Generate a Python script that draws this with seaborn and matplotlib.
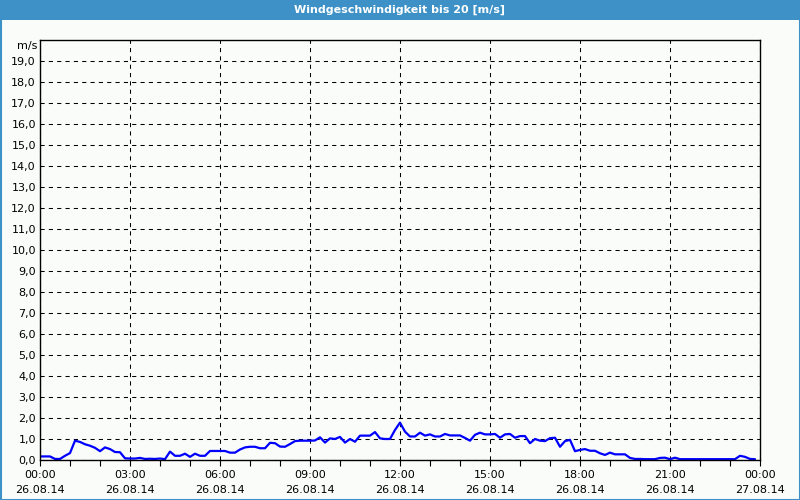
import numpy as np
import pandas as pd
import matplotlib
matplotlib.use("Agg")
import matplotlib.pyplot as plt
import matplotlib.dates as mdates
from matplotlib.patches import Rectangle
import seaborn as sns

title = "Windgeschwindigkeit bis 20 [m/s]"
unit_label = "m/s"
start_time = "2014-08-26 00:00"
end_time = "2014-08-27 00:00"
sample_freq = "10min"

# wind speed, m/s, one value every 10 minutes (00:00 .. 23:50)
speed_00_04 = [0.17, 0.17, 0.17, 0.05, 0.05, 0.20, 0.33, 0.92, 0.86, 0.75, 0.68, 0.58,
               0.42, 0.60, 0.52, 0.38, 0.37, 0.08, 0.07, 0.07, 0.10, 0.05, 0.06, 0.05]
speed_04_08 = [0.07, 0.04, 0.40, 0.20, 0.20, 0.30, 0.15, 0.30, 0.20, 0.20, 0.43, 0.43,
               0.43, 0.43, 0.35, 0.35, 0.50, 0.60, 0.63, 0.63, 0.56, 0.56, 0.82, 0.80]
speed_08_12 = [0.64, 0.63, 0.76, 0.90, 0.92, 0.92, 0.92, 0.93, 1.08, 0.83, 1.03, 1.00,
               1.10, 0.83, 1.00, 0.87, 1.16, 1.16, 1.16, 1.33, 1.03, 1.00, 1.00, 1.43]
speed_12_16 = [1.78, 1.35, 1.12, 1.12, 1.30, 1.16, 1.22, 1.12, 1.12, 1.24, 1.17, 1.17,
               1.17, 1.05, 0.92, 1.20, 1.30, 1.22, 1.22, 1.24, 1.06, 1.22, 1.24, 1.06]
speed_16_20 = [1.14, 1.14, 0.80, 1.00, 0.92, 0.90, 1.04, 1.06, 0.63, 0.90, 0.96, 0.42,
               0.48, 0.52, 0.44, 0.44, 0.32, 0.24, 0.35, 0.27, 0.27, 0.27, 0.10, 0.05]
speed_20_24 = [0.05, 0.04, 0.04, 0.04, 0.10, 0.11, 0.04, 0.11, 0.04, 0.04, 0.04, 0.04,
               0.04, 0.04, 0.04, 0.04, 0.04, 0.04, 0.04, 0.04, 0.20, 0.15, 0.05, 0.04]

speed = speed_00_04 + speed_04_08 + speed_08_12 + speed_12_16 + speed_16_20 + speed_20_24
times = pd.date_range(start_time, periods=len(speed), freq=sample_freq)
df = pd.DataFrame({"time": times, "speed": speed})

y_ticks = list(range(0, 20))
y_tick_labels = [f"{v},0" for v in y_ticks]

bg = "#FAFCFA"
bar_blue = "#3D91C6"

sns.set_theme(style="white")
plt.rcParams["font.family"] = ["DejaVu Sans"]

fig = plt.figure(figsize=(8, 5), dpi=100, facecolor=bg)
ax = fig.add_axes([40 / 800, 40 / 500, 720 / 800, 420 / 500])
ax.set_facecolor(bg)

sns.lineplot(data=df, x="time", y="speed", ax=ax, color="#0000FF", linewidth=1.6)

ax.set_xlim(pd.Timestamp(start_time), pd.Timestamp(end_time))
ax.set_ylim(0, 20)
ax.set_xlabel("")
ax.set_ylabel("")

ax.xaxis.set_major_locator(mdates.HourLocator(byhour=range(0, 24, 3)))
ax.xaxis.set_minor_locator(mdates.HourLocator())
ax.xaxis.set_major_formatter(mdates.DateFormatter("%H:%M\n%d.%m.%y"))
ax.set_yticks(y_ticks)
ax.set_yticklabels(y_tick_labels)

ax.tick_params(axis="x", which="both", direction="out", length=4, width=0.8,
               color="black", labelsize=8, labelcolor="black", pad=3.5, bottom=True)
ax.tick_params(axis="y", length=0, labelsize=8, labelcolor="black", pad=3)
for lab in ax.get_xticklabels():
    lab.set_linespacing(1.6)

ax.grid(True, which="major", axis="both", color="black", linewidth=0.75,
        linestyle=(0, (4, 4)))
ax.set_axisbelow(True)
for s in ax.spines.values():
    s.set_visible(True)
    s.set_color("black")
    s.set_linewidth(1.0)

fig.text(37 / 800, 1 - 46 / 500, unit_label, ha="right", va="center",
         fontsize=8, color="black")

# title bar and window border
fig.patches.append(Rectangle((0, 1 - 20 / 500), 1, 20 / 500, transform=fig.transFigure,
                             facecolor=bar_blue, edgecolor="none", zorder=0))
fig.patches.append(Rectangle((0.5 / 800, 0.5 / 500), 799 / 800, 499 / 500,
                             transform=fig.transFigure, facecolor="none",
                             edgecolor=bar_blue, linewidth=1.5, zorder=1))
fig.text(0.5, 1 - 10 / 500, title, ha="center", va="center", fontsize=8,
         color="white", fontweight="semibold")

fig.savefig("out.png", dpi=100, facecolor=bg)
